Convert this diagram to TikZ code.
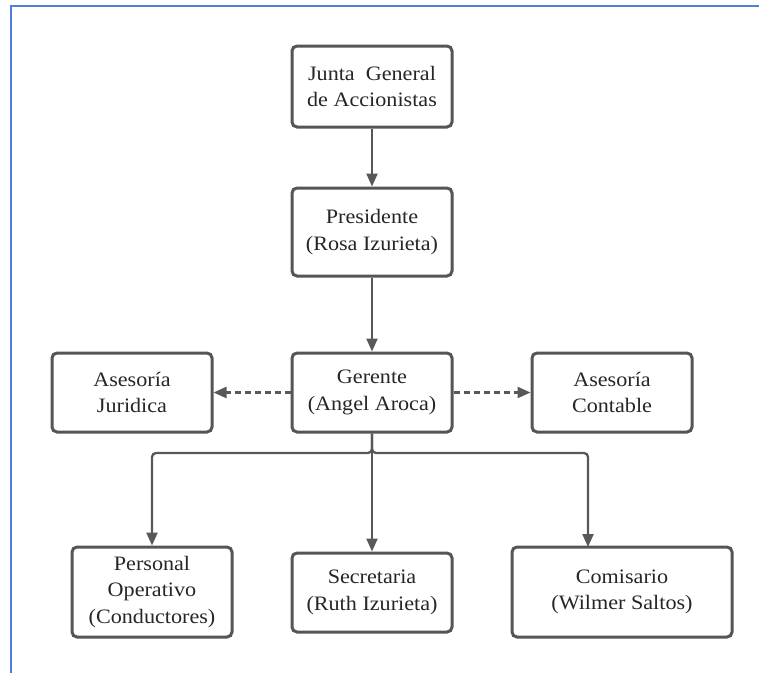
\documentclass[tikz,border=0pt]{standalone}
\usepackage{fontspec}
\setmainfont[FakeStretch=1.08]{Liberation Serif}
\usetikzlibrary{arrows.meta}
\definecolor{boxline}{HTML}{555555}
\definecolor{conn}{HTML}{585858}
\definecolor{frameblue}{HTML}{4F7FD9}
\tikzset{
  orgbox/.style={draw=boxline, line width=3pt, rounded corners=5pt, fill=white,
    align=center, inner sep=0pt, text=black!85,
    font=\fontsize{20.5}{26.5}\selectfont},
  conline/.style={draw=conn, line width=2.3pt, -{Triangle[length=13pt,width=11pt]}},
  dashline/.style={conline, dash pattern=on 6pt off 4pt}
}
\begin{document}
\begin{tikzpicture}[x=1pt,y=-1pt]
\useasboundingbox (0,0) rectangle (759,673);
\fill[white] (0,0) rectangle (759,673);
\draw[frameblue, line width=2pt] (11,673) -- (11,6) -- (759,6);

\node[orgbox, minimum width=160pt, minimum height=81pt] (jun) at (372,86.5) {Junta\ \ General\\de Accionistas};
\node[orgbox, minimum width=160pt, minimum height=88pt] (pre) at (372,232) {Presidente\\(Rosa Izurieta)};
\node[orgbox, minimum width=160pt, minimum height=79pt] (ger) at (372,392.5) {Gerente\\(Angel Aroca)};
\node[orgbox, minimum width=160pt, minimum height=79pt] (jur) at (132,392.5) {Asesoría\\Juridica};
\node[orgbox, minimum width=160pt, minimum height=79pt] (con) at (612,392.5) {Asesoría\\Contable};
\node[orgbox, minimum width=160pt, minimum height=90pt] (per) at (152,592) {Personal\\Operativo\\(Conductores)};
\node[orgbox, minimum width=160pt, minimum height=79pt] (sec) at (372,592.5) {Secretaria\\(Ruth Izurieta)};
\node[orgbox, minimum width=220pt, minimum height=90pt] (com) at (622,592) {Comisario\\(Wilmer Saltos)};

\coordinate (bus) at (372,453);
\coordinate (comin) at (588,547);

\draw[conline] (jun.south) -- (pre.north);
\draw[conline] (pre.south) -- (ger.north);
\draw[dashline] (ger.west) -- (jur.east);
\draw[dashline] (ger.east) -- (con.west);
\draw[conline] (ger.south) -- (sec.north);
\draw[conline, rounded corners=4pt] (ger.south) -- (bus) -| (per.north);
\draw[conline, rounded corners=4pt] (ger.south) -- (bus) -| (comin);
\end{tikzpicture}
\end{document}
